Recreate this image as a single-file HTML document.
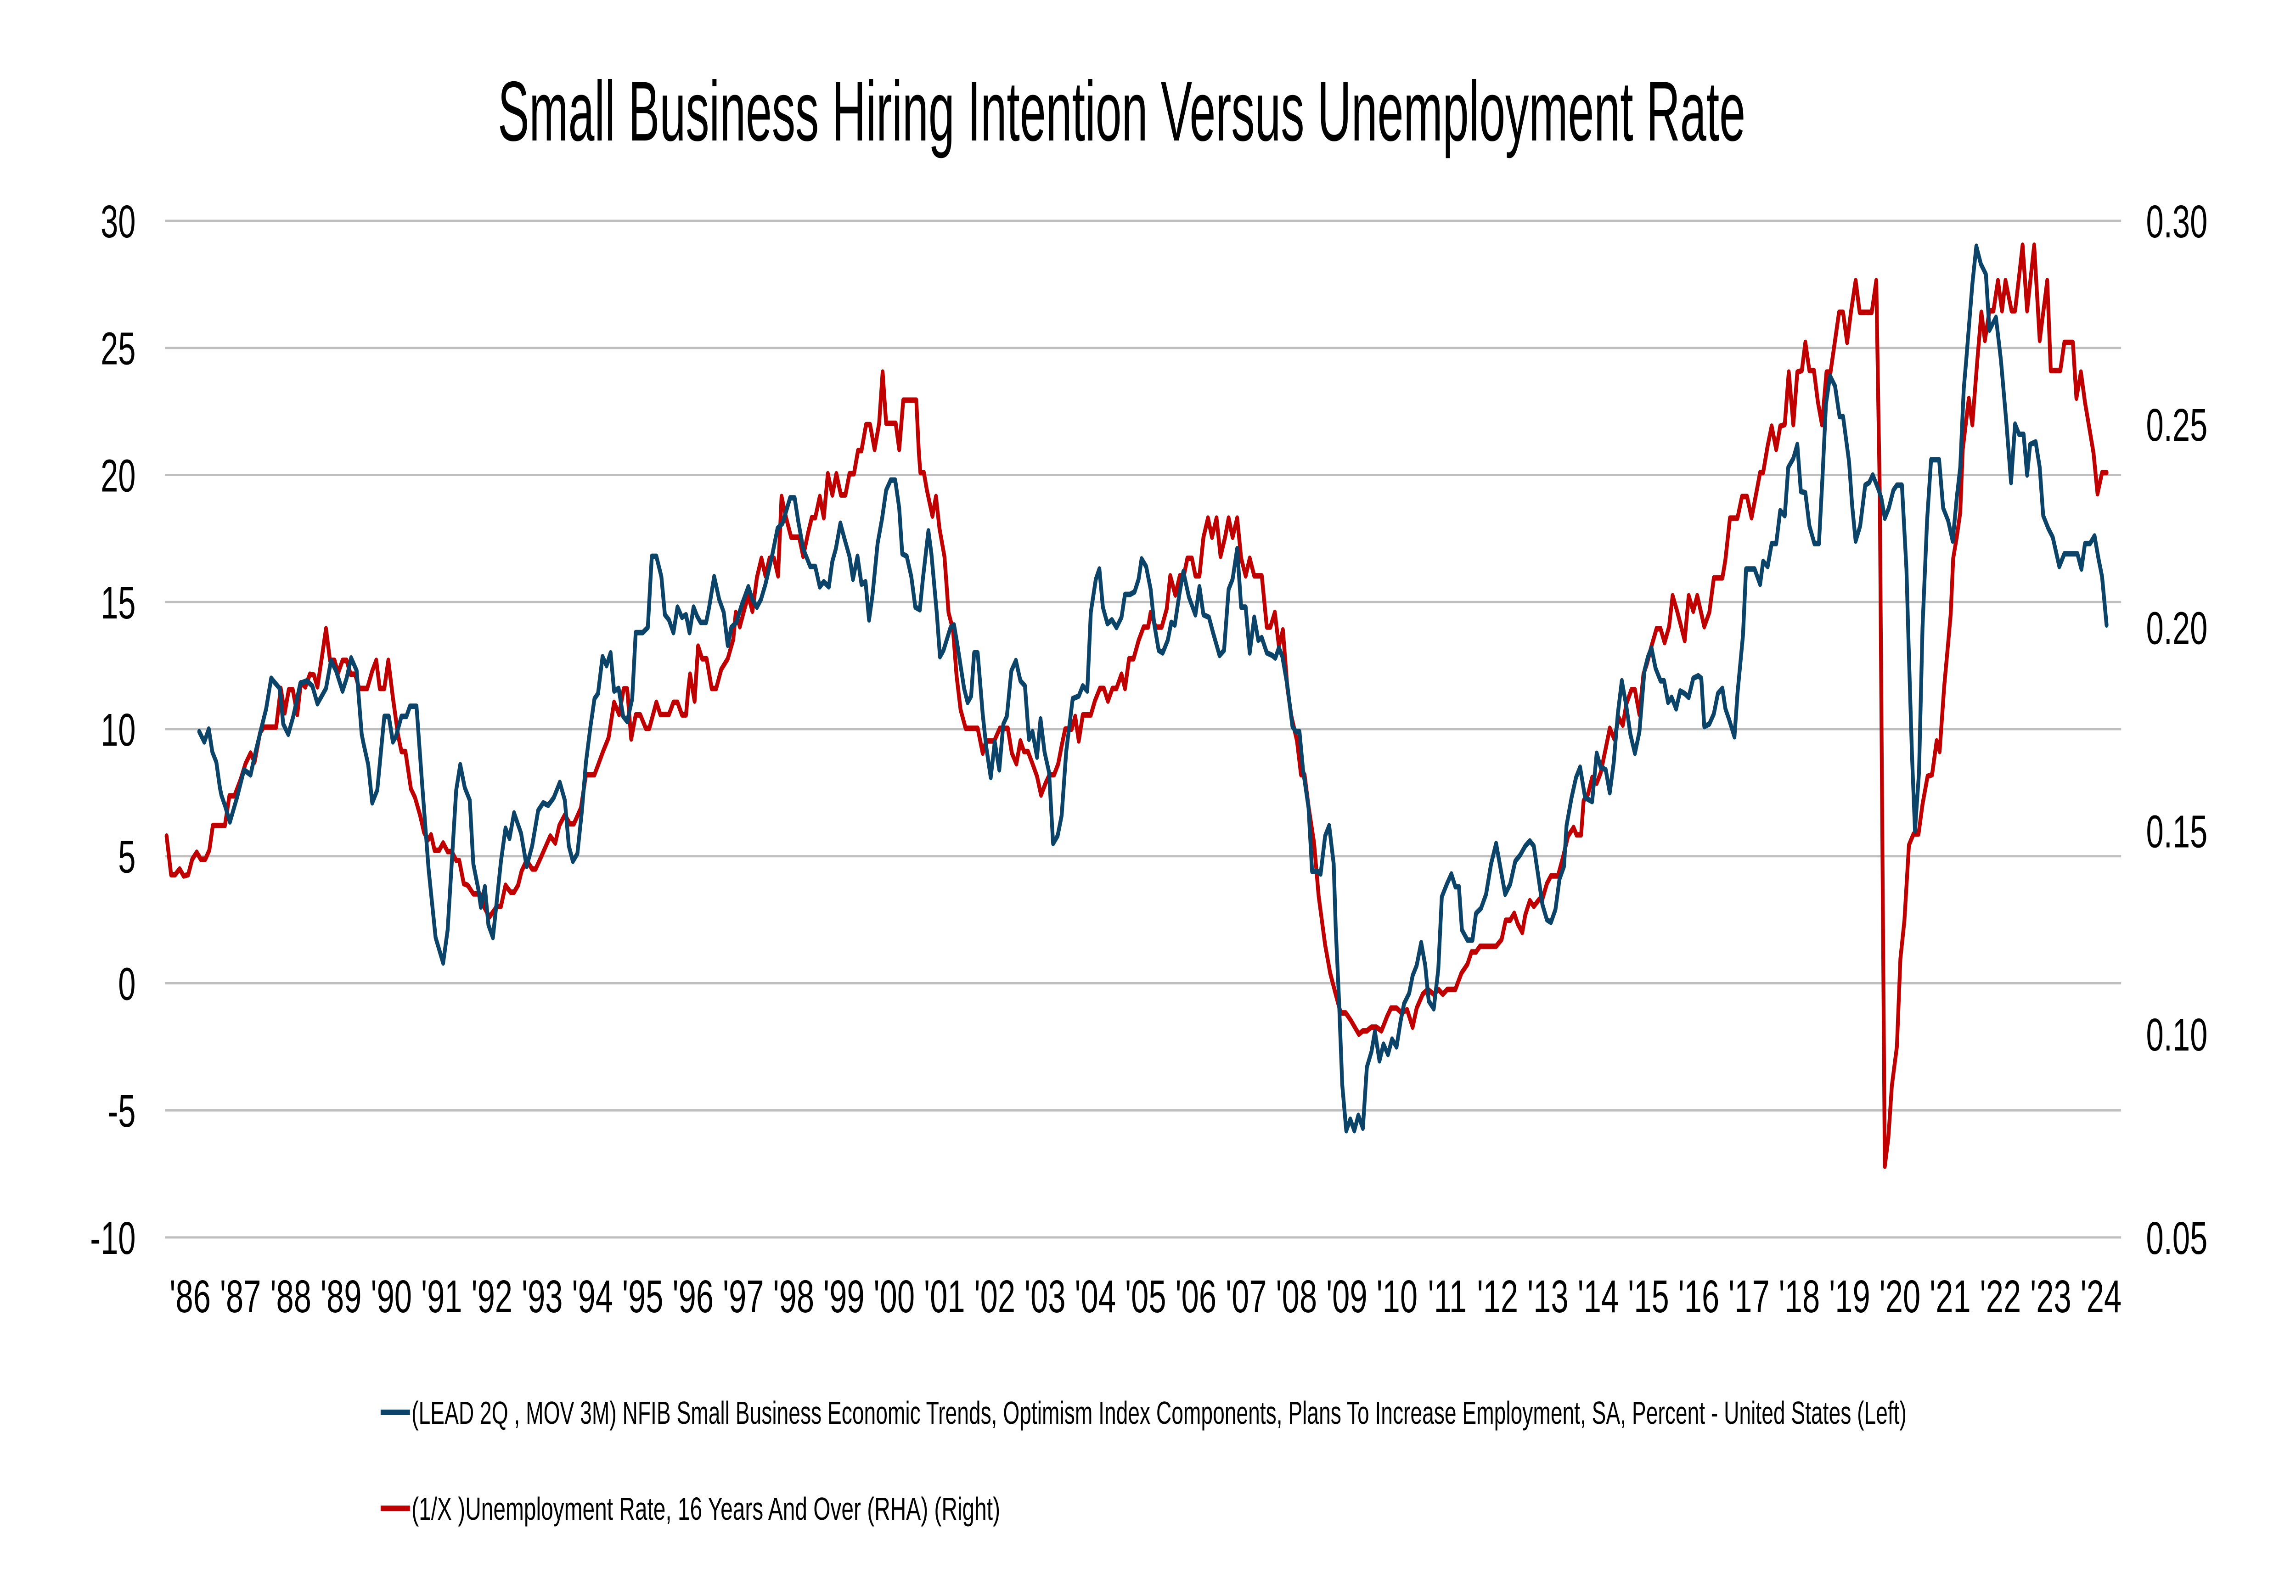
<!DOCTYPE html>
<html>
<head>
<meta charset="utf-8">
<meta name="viewport" content="width=7275, initial-scale=1">
<style>
html,body{margin:0;padding:0;background:#fff;width:100%;height:100%;overflow:hidden;}
svg{display:block;width:100vw;height:100vh;}
text{font-family:"Liberation Sans",sans-serif;fill:#000;}
</style>
</head>
<body>
<svg id="chart" width="100%" height="100%" viewBox="0 0 7275 3476" preserveAspectRatio="none" xmlns="http://www.w3.org/2000/svg">
<rect x="0" y="0" width="7275" height="3476" fill="#ffffff"/>
<text x="3554" y="306" font-size="185" text-anchor="middle" textLength="3953" lengthAdjust="spacingAndGlyphs">Small Business Hiring Intention Versus Unemployment Rate</text>
<g id="grid"></g>
<g id="yleft"></g>
<g id="yright"></g>
<g id="xaxis"></g>
<g id="series"></g>
<g>
<line x1="1206" y1="3076" x2="1299" y2="3076" stroke="#0b4468" stroke-width="12"/>
<text x="1304" y="3101" font-size="70" textLength="4737" lengthAdjust="spacingAndGlyphs">(LEAD 2Q , MOV 3M) NFIB Small Business Economic Trends, Optimism Index Components, Plans To Increase Employment, SA, Percent - United States (Left)</text>
<line x1="1206" y1="3285" x2="1299" y2="3285" stroke="#c00000" stroke-width="12"/>
<text x="1304" y="3310" font-size="70" textLength="1865" lengthAdjust="spacingAndGlyphs">(1/X )Unemployment Rate, 16 Years And Over (RHA) (Right)</text>
</g>
</svg>
<script>
const leftTicks = [30, 25, 20, 15, 10, 5, 0, -5, -10];
const rightTicks = ["0.30", "0.25", "0.20", "0.15", "0.10", "0.05"];
const yearLabels = ["'86","'87","'88","'89","'90","'91","'92","'93","'94","'95","'96","'97","'98","'99","'00","'01","'02","'03","'04","'05","'06","'07","'08","'09","'10","'11","'12","'13","'14","'15","'16","'17","'18","'19","'20","'21","'22","'23","'24"];

const hiringDates = [1986.68,1986.78,1986.87,1986.94,1987.02,1987.09,1987.12,1987.19,1987.29,1987.43,1987.57,1987.70,1987.80,1987.91,1988.01,1988.11,1988.28,1988.35,1988.45,1988.55,1988.69,1988.82,1988.93,1989.03,1989.20,1989.30,1989.40,1989.53,1989.61,1989.70,1989.81,1989.91,1989.95,1990.04,1990.12,1990.22,1990.36,1990.45,1990.53,1990.59,1990.70,1990.80,1990.87,1991.00,1991.11,1991.24,1991.38,1991.53,1991.62,1991.79,1991.87,1991.96,1992.06,1992.13,1992.23,1992.28,1992.36,1992.43,1992.52,1992.60,1992.68,1992.77,1992.85,1992.94,1993.08,1993.19,1993.30,1993.42,1993.52,1993.62,1993.73,1993.85,1993.95,1994.03,1994.11,1994.20,1994.29,1994.37,1994.46,1994.54,1994.61,1994.70,1994.78,1994.86,1994.93,1995.02,1995.11,1995.19,1995.29,1995.36,1995.50,1995.60,1995.68,1995.77,1995.87,1995.94,1996.02,1996.11,1996.19,1996.28,1996.36,
1996.43,1996.51,1996.58,1996.65,1996.76,1996.82,1996.92,1997.02,1997.11,1997.19,1997.26,1997.36,1997.47,1997.60,1997.68,1997.77,1997.85,1997.94,1998.08,1998.18,1998.28,1998.43,1998.52,1998.59,1998.69,1998.83,1998.93,1999.02,1999.10,1999.20,1999.27,1999.34,1999.43,1999.51,1999.61,1999.68,1999.77,1999.85,1999.93,2000.00,2000.07,2000.17,2000.26,2000.34,2000.43,2000.52,2000.60,2000.66,2000.75,2000.84,2000.92,2001.01,2001.07,2001.18,2001.24,2001.35,2001.41,2001.48,2001.62,2001.69,2001.75,2001.89,2001.96,2002.03,2002.09,2002.16,2002.26,2002.33,2002.42,2002.50,2002.59,2002.67,2002.74,2002.83,2002.92,2003.01,2003.10,2003.18,2003.25,2003.34,2003.41,2003.49,2003.58,2003.66,2003.75,2003.83,2003.92,2004.05,2004.17,2004.25,2004.34,2004.41,2004.51,2004.58,2004.65,2004.74,2004.83,2004.92,2005.02,2005.09,2005.19,2005.28,2005.36,2005.42,2005.51,2005.60,2005.67,2005.76,2005.84,2005.94,2006.01,2006.08,2006.17,2006.25,2006.36,2006.49,2006.57,
2006.65,2006.76,2006.84,2006.97,2007.06,2007.15,2007.23,2007.32,2007.40,2007.49,2007.57,2007.66,2007.74,2007.81,2007.91,2008.02,2008.08,2008.15,2008.22,2008.32,2008.42,2008.49,2008.56,2008.63,2008.74,2008.81,2008.92,2008.98,2009.07,2009.15,2009.24,2009.28,2009.34,2009.41,2009.49,2009.57,2009.65,2009.73,2009.82,2009.90,2009.99,2010.06,2010.15,2010.23,2010.32,2010.40,2010.49,2010.57,2010.64,2010.74,2010.81,2010.89,2010.98,2011.06,2011.13,2011.23,2011.32,2011.39,2011.49,2011.58,2011.66,2011.73,2011.79,2011.90,2012.00,2012.07,2012.17,2012.27,2012.37,2012.47,2012.56,2012.65,2012.75,2012.85,2012.95,2013.05,2013.14,2013.22,2013.31,2013.39,2013.48,2013.56,2013.65,2013.73,2013.82,2013.87,2013.97,2014.06,2014.14,2014.24,2014.38,2014.47,2014.55,2014.65,2014.73,2014.81,2014.89,2014.97,2015.06,2015.14,2015.23,2015.32,2015.42,2015.49,2015.56,2015.64,2015.74,2015.81,2015.89,2015.96,2016.05,2016.13,2016.22,2016.30,2016.39,2016.49,2016.55,2016.61,
2016.71,2016.80,2016.88,2016.97,2017.03,2017.10,2017.21,2017.27,2017.38,2017.44,2017.61,2017.72,2017.78,2017.87,2017.95,2018.04,2018.12,2018.21,2018.28,2018.38,2018.46,2018.53,2018.62,2018.70,2018.80,2018.89,2018.96,2019.03,2019.11,2019.21,2019.30,2019.37,2019.49,2019.55,2019.62,2019.71,2019.81,2019.89,2019.96,2020.06,2020.13,2020.20,2020.28,2020.37,2020.44,2020.54,2020.63,2020.68,2020.74,2020.80,2020.88,2020.95,2021.04,2021.12,2021.28,2021.36,2021.46,2021.55,2021.63,2021.70,2021.77,2021.82,2021.94,2022.02,2022.11,2022.21,2022.28,2022.41,2022.51,2022.62,2022.71,2022.79,2022.87,2022.96,2023.03,2023.09,2023.20,2023.28,2023.35,2023.45,2023.54,2023.67,2023.77,2024.03,2024.11,2024.18,2024.28,2024.37,2024.45,2024.52,2024.61];
const hiringValues = [9.9,9.5,10.0,9.1,8.7,7.7,7.4,7.0,6.35,7.3,8.4,8.2,9.1,10.0,10.8,12.0,11.6,10.2,9.8,10.5,11.8,11.9,11.7,11.0,11.6,12.7,12.3,11.5,12.0,12.8,12.3,9.8,9.4,8.6,7.1,7.6,10.5,10.5,9.5,9.7,10.5,10.5,10.9,10.9,7.9,4.5,1.8,0.8,2.1,7.6,8.6,7.7,7.2,4.7,3.7,3.0,3.8,2.3,1.8,3.3,4.8,6.1,5.7,6.7,5.9,4.6,5.4,6.8,7.1,7.0,7.3,7.9,7.2,5.4,4.8,5.1,6.8,8.7,10.1,11.2,11.4,12.85,12.5,13.0,11.5,11.6,10.5,10.3,11.2,13.8,13.8,14.0,16.8,16.8,16.0,14.5,14.3,13.8,14.8,14.4,14.5,
13.8,14.8,14.45,14.2,14.2,14.8,16.0,15.1,14.6,13.3,14.0,14.2,14.9,15.6,15.1,14.8,15.1,15.7,16.9,17.9,18.1,19.1,19.1,18.2,17.1,16.4,16.4,15.6,15.8,15.6,16.6,17.1,18.1,17.5,16.8,15.9,16.8,15.7,15.8,14.3,15.3,17.3,18.3,19.4,19.8,19.8,18.7,16.9,16.8,16.0,14.8,14.7,15.9,17.8,16.9,14.5,12.85,13.1,14.0,14.1,13.4,11.6,11.05,11.3,13.0,13.0,10.6,9.3,8.1,9.5,8.4,10.2,10.5,12.3,12.7,11.9,11.7,9.6,9.9,8.9,10.4,9.1,8.3,5.5,5.8,6.6,9.1,11.2,11.3,11.7,11.5,14.6,15.9,16.3,14.8,14.15,14.3,14.0,14.4,15.3,15.3,15.4,15.9,16.7,16.4,15.5,14.15,13.1,13.0,13.5,14.2,14.1,15.3,16.2,15.2,14.5,15.6,
14.5,14.4,13.8,12.9,13.1,15.5,15.9,17.1,14.8,14.8,13.0,14.4,13.5,13.6,13.0,12.9,12.8,13.2,12.85,11.7,10.1,9.9,9.9,8.4,6.9,4.4,4.4,4.3,5.8,6.2,4.7,2.2,-0.4,-4.0,-5.8,-5.35,-5.8,-5.2,-5.7,-3.3,-2.7,-1.9,-3.05,-2.4,-2.8,-2.2,-2.5,-1.5,-0.8,-0.4,0.3,0.7,1.6,0.7,-0.7,-1.0,0.55,3.4,3.9,4.3,3.8,3.8,2.1,1.7,1.7,2.75,2.95,3.5,4.7,5.5,4.5,3.5,3.9,4.8,5.05,5.4,5.6,5.4,4.2,3.1,2.5,2.4,2.9,4.1,4.6,6.2,7.3,8.1,8.5,7.3,7.15,9.05,8.5,8.4,7.5,8.7,10.6,11.9,10.9,9.8,9.05,9.9,12.3,12.85,13.2,12.4,11.9,11.9,11.05,11.25,10.8,11.5,11.4,11.25,12.0,12.1,12.0,10.1,
10.2,10.6,11.4,11.6,10.8,10.4,9.7,11.4,13.7,16.3,16.3,15.7,16.6,16.4,17.3,17.3,18.6,18.4,20.3,20.65,21.2,19.35,19.3,18.0,17.3,17.3,19.9,22.8,23.9,23.5,22.3,22.3,20.5,18.8,17.4,18.0,19.6,19.7,20.0,19.5,19.1,18.3,18.7,19.4,19.6,19.6,16.3,12.85,9.0,6.0,8.3,14.0,18.2,20.6,20.6,18.7,18.2,17.4,19.1,20.3,23.4,24.55,27.5,29.0,28.3,27.9,25.7,26.2,24.5,22.0,19.7,22.0,21.6,21.6,20.0,21.2,21.3,20.3,18.4,17.9,17.55,16.4,16.9,16.9,16.3,17.3,17.3,17.6,16.7,16.0,14.1];

const unempDates = [1986.03,1986.12,1986.20,1986.29,1986.37,1986.46,1986.54,1986.63,1986.71,1986.80,1986.88,1986.95,1987.19,1987.28,1987.38,1987.50,1987.60,1987.70,1987.78,1987.89,1987.96,1988.21,1988.30,1988.38,1988.46,1988.54,1988.63,1988.70,1988.79,1988.88,1988.96,1989.03,1989.12,1989.20,1989.28,1989.37,1989.44,1989.53,1989.61,1989.69,1989.78,1989.86,1990.02,1990.12,1990.20,1990.27,1990.36,1990.44,1990.53,1990.63,1990.70,1990.78,1990.89,1990.97,1991.07,1991.15,1991.23,1991.29,1991.36,1991.45,1991.53,1991.62,1991.70,1991.79,1991.85,1991.94,1992.02,1992.13,1992.26,1992.34,1992.45,1992.60,1992.68,1992.77,1992.87,1992.94,1993.02,1993.09,1993.19,1993.30,1993.37,1993.49,1993.66,1993.76,1993.84,1993.95,1994.05,1994.13,1994.27,1994.37,1994.54,1994.71,1994.82,1994.93,1995.03,1995.12,1995.19,1995.27,1995.36,1995.45,1995.56,1995.63,1995.77,1995.85,1996.02,1996.11,1996.19,1996.28,1996.36,
1996.40,1996.44,1996.53,1996.60,1996.68,1996.77,1996.87,1996.96,1997.06,1997.19,1997.30,1997.35,1997.43,1997.53,1997.60,1997.68,1997.77,1997.86,1997.94,1998.02,1998.11,1998.19,1998.26,1998.35,1998.45,1998.61,1998.69,1998.79,1998.86,1998.93,1999.02,1999.10,1999.18,1999.27,1999.35,1999.44,1999.53,1999.61,1999.70,1999.78,1999.85,1999.94,2000.02,2000.11,2000.20,2000.27,2000.34,2000.53,2000.60,2000.68,2000.94,2000.99,2001.02,2001.09,2001.15,2001.26,2001.33,2001.40,2001.50,2001.55,2001.58,2001.67,2001.74,2001.82,2001.92,2002.16,2002.26,2002.33,2002.49,2002.60,2002.76,2002.84,2002.93,2003.01,2003.08,2003.16,2003.25,2003.34,2003.42,2003.51,2003.59,2003.68,2003.76,2003.83,2003.90,2004.03,2004.10,2004.17,2004.25,2004.41,2004.49,2004.59,2004.67,2004.75,2004.84,2004.92,2005.02,2005.09,2005.17,2005.26,2005.36,2005.46,2005.55,2005.60,2005.70,2005.82,2005.92,2005.99,2006.09,2006.18,2006.26,2006.33,2006.42,2006.49,2006.57,
2006.65,2006.74,2006.82,2006.91,2006.99,2007.08,2007.15,2007.23,2007.32,2007.40,2007.49,2007.57,2007.66,2007.81,2007.91,2007.98,2008.07,2008.15,2008.23,2008.32,2008.40,2008.51,2008.59,2008.66,2008.74,2008.85,2008.94,2009.07,2009.17,2009.28,2009.38,2009.48,2009.58,2009.74,2009.82,2009.90,2009.99,2010.09,2010.19,2010.30,2010.38,2010.49,2010.59,2010.70,2010.81,2010.89,2011.01,2011.11,2011.23,2011.32,2011.41,2011.50,2011.66,2011.78,2011.90,2011.98,2012.07,2012.15,2012.47,2012.58,2012.66,2012.75,2012.83,2012.90,2012.99,2013.05,2013.14,2013.22,2013.33,2013.39,2013.48,2013.56,2013.70,2013.80,2013.90,2014.01,2014.07,2014.16,2014.21,2014.30,2014.38,2014.47,2014.55,2014.65,2014.73,2014.82,2014.91,2014.99,2015.06,2015.16,2015.23,2015.32,2015.40,2015.47,2015.56,2015.66,2015.74,2015.82,2015.91,2015.98,2016.07,2016.15,2016.22,2016.30,2016.39,2016.47,2016.61,
2016.71,2016.80,2016.97,2017.03,2017.12,2017.27,2017.36,2017.46,2017.55,2017.63,2017.72,2017.78,2017.87,2017.95,2018.04,2018.12,2018.21,2018.29,2018.38,2018.46,2018.55,2018.62,2018.70,2018.79,2018.87,2018.95,2019.04,2019.12,2019.21,2019.29,2019.37,2019.45,2019.53,2019.62,2019.70,2019.94,2020.03,2020.10,2020.20,2020.27,2020.34,2020.44,2020.51,2020.59,2020.68,2020.77,2020.87,2020.95,2021.05,2021.14,2021.23,2021.29,2021.38,2021.46,2021.51,2021.56,2021.63,2021.70,2021.75,2021.87,2021.94,2022.04,2022.12,2022.19,2022.28,2022.36,2022.45,2022.53,2022.60,2022.72,2022.79,2022.86,2022.94,2023.03,2023.17,2023.28,2023.43,2023.50,2023.69,2023.77,2023.94,2024.01,2024.10,2024.18,2024.28,2024.35,2024.43,2024.52,2024.61];
const unempValues = [0.1487,0.1392,0.1392,0.1406,0.1389,0.1392,0.1430,0.1447,0.1430,0.1430,0.1452,0.1513,0.1513,0.1586,0.1586,0.1625,0.1665,0.1691,0.1669,0.1741,0.1755,0.1755,0.1850,0.1790,0.1847,0.1847,0.1786,0.1864,0.1854,0.1885,0.1883,0.1854,0.1928,0.1997,0.1919,0.1919,0.1888,0.1919,0.1919,0.1885,0.1885,0.1850,0.1850,0.1893,0.1919,0.1850,0.1850,0.1919,0.1828,0.1738,0.1695,0.1695,0.1603,0.1582,0.1539,0.1496,0.1478,0.1490,0.1452,0.1452,0.1470,0.1449,0.1449,0.1427,0.1427,0.1370,0.1366,0.1345,0.1345,0.1314,0.1288,0.1314,0.1314,0.1366,0.1349,0.1349,0.1366,0.1401,0.1427,0.1406,0.1406,0.1439,0.1487,0.1470,0.1513,0.1539,0.1517,0.1517,0.1556,0.1638,0.1638,0.1695,0.1729,0.1816,0.1786,0.1849,0.1849,0.1726,0.1785,0.1785,0.1752,0.1752,0.1816,0.1786,0.1786,0.1816,0.1816,0.1785,0.1785,
0.1842,0.1885,0.1819,0.1954,0.1923,0.1923,0.1850,0.1850,0.1897,0.1923,0.1971,0.2037,0.2002,0.2049,0.2078,0.2040,0.2123,0.2170,0.2127,0.2170,0.2170,0.2127,0.2322,0.2270,0.2222,0.2222,0.2175,0.2234,0.2270,0.2270,0.2322,0.2270,0.2378,0.2326,0.2378,0.2326,0.2326,0.2378,0.2378,0.2435,0.2435,0.2499,0.2499,0.2438,0.2502,0.2628,0.2502,0.2502,0.2438,0.2559,0.2559,0.2430,0.2381,0.2381,0.2338,0.2274,0.2322,0.2244,0.2174,0.2089,0.2037,0.1994,0.1881,0.1798,0.1752,0.1752,0.1691,0.1721,0.1721,0.1752,0.1752,0.1691,0.1665,0.1721,0.1695,0.1695,0.1665,0.1634,0.1588,0.1617,0.1638,0.1638,0.1664,0.1709,0.1750,0.1750,0.1781,0.1721,0.1785,0.1785,0.1819,0.1850,0.1850,0.1819,0.1850,0.1850,0.1885,0.1850,0.1923,0.1923,0.1968,0.2001,0.2001,0.2037,0.2001,0.2001,0.2046,0.2127,0.2080,0.2127,0.2127,0.2170,0.2170,0.2127,0.2127,
0.2222,0.2269,0.2222,0.2269,0.2175,0.2222,0.2269,0.2222,0.2269,0.2170,0.2127,0.2170,0.2127,0.2127,0.2001,0.2001,0.2037,0.1954,0.1994,0.1850,0.1781,0.1721,0.1638,0.1638,0.1560,0.1470,0.1340,0.1219,0.1150,0.1098,0.1052,0.1052,0.1034,0.1000,0.1008,0.1008,0.1017,0.1017,0.1008,0.1043,0.1064,0.1064,0.1052,0.1060,0.1017,0.1064,0.1098,0.1110,0.1098,0.1110,0.1098,0.1110,0.1110,0.1150,0.1172,0.1202,0.1202,0.1216,0.1216,0.1233,0.1280,0.1280,0.1297,0.1271,0.1250,0.1293,0.1328,0.1314,0.1332,0.1332,0.1370,0.1389,0.1389,0.1435,0.1487,0.1508,0.1490,0.1490,0.1574,0.1591,0.1631,0.1617,0.1643,0.1703,0.1752,0.1726,0.1778,0.1760,0.1812,0.1847,0.1847,0.1786,0.1885,0.1911,0.1954,0.1997,0.1997,0.1963,0.2002,0.2078,0.2040,0.2002,0.1968,0.2078,0.2040,0.2078,0.2002,
0.2037,0.2122,0.2122,0.2167,0.2269,0.2269,0.2322,0.2322,0.2270,0.2322,0.2381,0.2381,0.2447,0.2495,0.2438,0.2495,0.2499,0.2628,0.2499,0.2628,0.2632,0.2701,0.2632,0.2632,0.2554,0.2499,0.2628,0.2628,0.2706,0.2775,0.2775,0.2701,0.2779,0.2853,0.2775,0.2775,0.2853,0.2326,0.0675,0.0744,0.0873,0.0969,0.1185,0.1280,0.1465,0.1492,0.1492,0.1565,0.1634,0.1638,0.1721,0.1695,0.1854,0.1963,0.2032,0.2170,0.2222,0.2283,0.2438,0.2563,0.2499,0.2658,0.2775,0.2706,0.2779,0.2779,0.2853,0.2779,0.2853,0.2779,0.2779,0.2853,0.2940,0.2779,0.2940,0.2706,0.2853,0.2632,0.2632,0.2701,0.2701,0.2564,0.2628,0.2554,0.2481,0.2429,0.2329,0.2381,0.2381];

const NS = "http://www.w3.org/2000/svg";
const PL = 523, PR = 6721, PT = 481, PB = 2695;
const T0 = 1986.0, T1 = 2024.9;
function xScale(t){ return PL + (t - T0) / (T1 - T0) * (PR - PL); }
function yLeft(v){ return PT + (30 - v) / 40 * (PB - PT); }
function yRight(r){ return PT + (0.30 - r) / 0.25 * (PB - PT); }
function mk(tag, attrs, parent){
  const el = document.createElementNS(NS, tag);
  for (const k in attrs) el.setAttribute(k, attrs[k]);
  parent.appendChild(el);
  return el;
}

const grid = document.getElementById('grid');
const yl = document.getElementById('yleft');
leftTicks.forEach(v => {
  const y = yLeft(v);
  const ln = mk('line', {x1: PL, x2: PR, y1: y, y2: y, stroke: '#bfbfbf', 'stroke-width': 5}, grid);
  
  
  const t = mk('text', {x: 430, y: y + 36, 'font-size': 100, 'text-anchor': 'end'}, yl);
  t.textContent = String(v);
  
  
});
const yr = document.getElementById('yright');
rightTicks.forEach(s => {
  const y = yRight(parseFloat(s));
  const t = mk('text', {x: 6800, y: y + 36, 'font-size': 100, 'text-anchor': 'start'}, yr);
  t.textContent = s;
  
  
});
const xa = document.getElementById('xaxis');
yearLabels.forEach((lab, i) => {
  const x = xScale(1986 + i + 0.5);
  const t = mk('text', {x: x, y: 2858, 'font-size': 100, 'text-anchor': 'middle'}, xa);
  t.textContent = lab;
  
  
});

const sg = document.getElementById('series');
let d1 = '';
unempDates.forEach((t, i) => { d1 += (i ? 'L' : 'M') + xScale(t).toFixed(1) + ',' + yRight(unempValues[i]).toFixed(1); });
const p1 = mk('path', {d: d1, fill: 'none', stroke: '#c00000', 'stroke-width': 12, 'stroke-linejoin': 'round', 'stroke-linecap': 'round'}, sg);



let d2 = '';
hiringDates.forEach((t, i) => { d2 += (i ? 'L' : 'M') + xScale(t).toFixed(1) + ',' + yLeft(hiringValues[i]).toFixed(1); });
const p2 = mk('path', {d: d2, fill: 'none', stroke: '#0b4468', 'stroke-width': 12, 'stroke-linejoin': 'round', 'stroke-linecap': 'round'}, sg);


</script>
</body>
</html>
